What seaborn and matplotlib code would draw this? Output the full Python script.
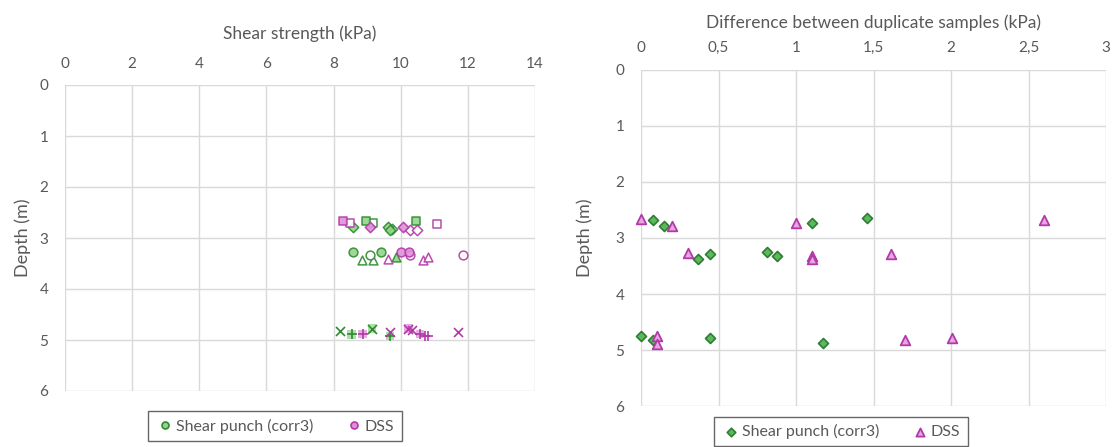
import matplotlib
matplotlib.use("Agg")
import matplotlib.pyplot as plt
import seaborn as sns
import pandas as pd

# ---- Shear strength per sample (left panel) ----
# marker shape identifies the sampling depth group, "filled" separates duplicates
sp_strength = [8.97, 9.18, 10.46, 8.59, 9.62, 9.73, 9.67, 8.59, 9.09, 9.41,
               8.84, 9.18, 9.86, 8.19, 9.14, 8.54, 9.68]
sp_depth    = [2.66, 2.71, 2.66, 2.78, 2.78, 2.82, 2.84, 3.27, 3.33, 3.27,
               3.43, 3.43, 3.38, 4.83, 4.78, 4.89, 4.92]
sp_shape    = ["s", "s", "s", "D", "D", "D", "D", "o", "o", "o",
               "^", "^", "^", "x", "x", "+", "+"]
sp_filled   = [1, 0, 1, 1, 1, 0, 1, 1, 0, 1,
               0, 0, 1, 0, 1, 1, 1]

dss_strength = [8.27, 8.49, 11.09, 9.09, 10.08, 10.28, 10.49, 10.01, 10.26, 10.28,
                11.85, 9.63, 10.67, 10.82, 9.68, 10.23, 10.33, 11.72, 8.87,
                10.57, 10.72, 10.82]
dss_depth    = [2.66, 2.71, 2.72, 2.78, 2.78, 2.84, 2.84, 3.27, 3.27, 3.33,
                3.33, 3.41, 3.43, 3.38, 4.85, 4.78, 4.80, 4.84, 4.88,
                4.88, 4.92, 4.92]
dss_shape    = ["s", "s", "s", "D", "D", "D", "D", "o", "o", "o",
                "o", "^", "^", "^", "x", "x", "x", "x", "+",
                "+", "+", "+"]
dss_filled   = [1, 0, 0, 1, 1, 0, 0, 1, 1, 0,
                0, 0, 0, 0, 0, 1, 0, 0, 1,
                1, 0, 0]

# ---- Difference between duplicate samples (right panel) ----
sp_diff        = [0.075, 0.15, 1.10, 1.46, 0.37, 0.445, 0.81, 0.88,
                  0.0, 0.075, 0.445, 1.174]
sp_diff_depth  = [2.67, 2.78, 2.73, 2.65, 3.38, 3.29, 3.25, 3.32,
                  4.75, 4.83, 4.79, 4.88]
dss_diff       = [0.0, 0.20, 1.0, 2.60, 0.305, 1.105, 1.105, 1.61,
                  0.105, 0.105, 1.705, 2.006]
dss_diff_depth = [2.66, 2.79, 2.73, 2.68, 3.26, 3.32, 3.38, 3.29,
                  4.75, 4.89, 4.83, 4.79]

left_xticks = [0, 2, 4, 6, 8, 10, 12, 14]
right_xticks = [0, 0.5, 1, 1.5, 2, 2.5, 3]
right_xticklabels = ["0", "0,5", "1", "1,5", "2", "2,5", "3"]
depth_ticks = [0, 1, 2, 3, 4, 5, 6]

sns.set_style("white")
plt.rcParams["font.family"] = ["Lato", "DejaVu Sans"]

TXT = "#595959"
GRID = "#d9d9d9"
SP_FILL, SP_EDGE = "#93d48c", "#2f8a2f"
DSS_FILL, DSS_EDGE = "#e190da", "#b13aa8"

fig = plt.figure(figsize=(11.15, 4.47), dpi=100)
ax1 = fig.add_axes([65 / 1115, 1 - 391 / 447, 470 / 1115, 306 / 447])
ax2 = fig.add_axes([641 / 1115, 1 - 406 / 447, 465 / 1115, 336 / 447])


def draw_samples(ax, xs, ys, shapes, filled, fill, edge):
    df = pd.DataFrame({"x": xs, "y": ys, "shape": shapes, "filled": filled})
    for (shape, f), g in df.groupby(["shape", "filled"]):
        if shape in ("x", "+"):
            if f:
                sns.scatterplot(data=g, x="x", y="y", marker="s", s=38,
                                color=fill, edgecolor="none", alpha=0.75,
                                ax=ax, zorder=3, legend=False)
            sns.scatterplot(data=g, x="x", y="y", marker=shape, s=42,
                            color=edge, linewidth=1.2, ax=ax, zorder=4,
                            legend=False)
        else:
            size = 28 if shape == "D" else 40
            sns.scatterplot(data=g, x="x", y="y", marker=shape, s=size,
                            facecolor=fill if f else "white",
                            edgecolor=edge, linewidth=1.1, alpha=0.9,
                            ax=ax, zorder=3, legend=False)


draw_samples(ax1, sp_strength, sp_depth, sp_shape, sp_filled, SP_FILL, SP_EDGE)
draw_samples(ax1, dss_strength, dss_depth, dss_shape, dss_filled, DSS_FILL, DSS_EDGE)

sns.scatterplot(x=sp_diff, y=sp_diff_depth, marker="D", s=26,
                color="#5cb85c", edgecolor="#2e7d32", linewidth=1.2,
                ax=ax2, zorder=3, label="Shear punch (corr3)", clip_on=False)
sns.scatterplot(x=dss_diff, y=dss_diff_depth, marker="^", s=48,
                color="#e7a6e0", edgecolor="#b13aa8", linewidth=1.3,
                ax=ax2, zorder=3, label="DSS", clip_on=False)


def style_axis(ax, xlim, xticks, xticklabels, ylabel_pad, xpad):
    ax.set_xlim(*xlim)
    ax.set_ylim(6, 0)
    ax.set_xticks(xticks)
    ax.set_xticklabels(xticklabels)
    ax.set_yticks(depth_ticks)
    ax.xaxis.tick_top()
    ax.xaxis.set_label_position("top")
    ax.grid(True, color=GRID, linewidth=1.0)
    ax.set_axisbelow(True)
    for sp in ax.spines.values():
        sp.set_visible(False)
    ax.tick_params(axis="x", length=0, labelsize=11, colors=TXT, pad=xpad)
    ax.tick_params(axis="y", length=0, labelsize=11, colors=TXT, pad=12)
    ax.set_ylabel("Depth (m)", fontsize=13, color=TXT, labelpad=ylabel_pad)


style_axis(ax1, (0, 14), left_xticks, [str(t) for t in left_xticks], 6, 10)
ax1.set_xlabel("Shear strength (kPa)", fontsize=12.5, color=TXT, labelpad=13)
style_axis(ax2, (0, 3), right_xticks, right_xticklabels, 16, 11)
ax2.set_xlabel("Difference between duplicate samples (kPa)", fontsize=12.5,
               color=TXT, labelpad=9)

# Left legend: circle symbols for the two methods
h_sp = plt.Line2D([], [], marker="o", ls="", markersize=5,
                  markerfacecolor=SP_FILL, markeredgecolor=SP_EDGE, markeredgewidth=1.2)
h_dss = plt.Line2D([], [], marker="o", ls="", markersize=5,
                   markerfacecolor=DSS_FILL, markeredgecolor=DSS_EDGE, markeredgewidth=1.2)
leg1 = ax1.legend([h_sp, h_dss], ["Shear punch (corr3)", "DSS"], ncol=2,
                  loc="center", bbox_to_anchor=(275 / 1115, 1 - 426 / 447),
                  bbox_transform=fig.transFigure, frameon=True, fancybox=False,
                  fontsize=11.5, handletextpad=0.05, columnspacing=2.0,
                  borderpad=0.45, handlelength=1.2, borderaxespad=0)
leg1.get_frame().set_edgecolor("#404040")
leg1.get_frame().set_linewidth(1.0)
for t in leg1.get_texts():
    t.set_color(TXT)

leg2 = ax2.legend(ncol=2, loc="upper center",
                  bbox_to_anchor=(841 / 1115, 1 - 417 / 447),
                  bbox_transform=fig.transFigure, frameon=True, fancybox=False,
                  fontsize=11.5, handletextpad=0.05, columnspacing=2.0,
                  borderpad=0.45, handlelength=1.2, borderaxespad=0,
                  markerscale=0.85)
leg2.get_frame().set_edgecolor("#404040")
leg2.get_frame().set_linewidth(1.0)
for t in leg2.get_texts():
    t.set_color(TXT)

fig.savefig("out.png", dpi=100)
